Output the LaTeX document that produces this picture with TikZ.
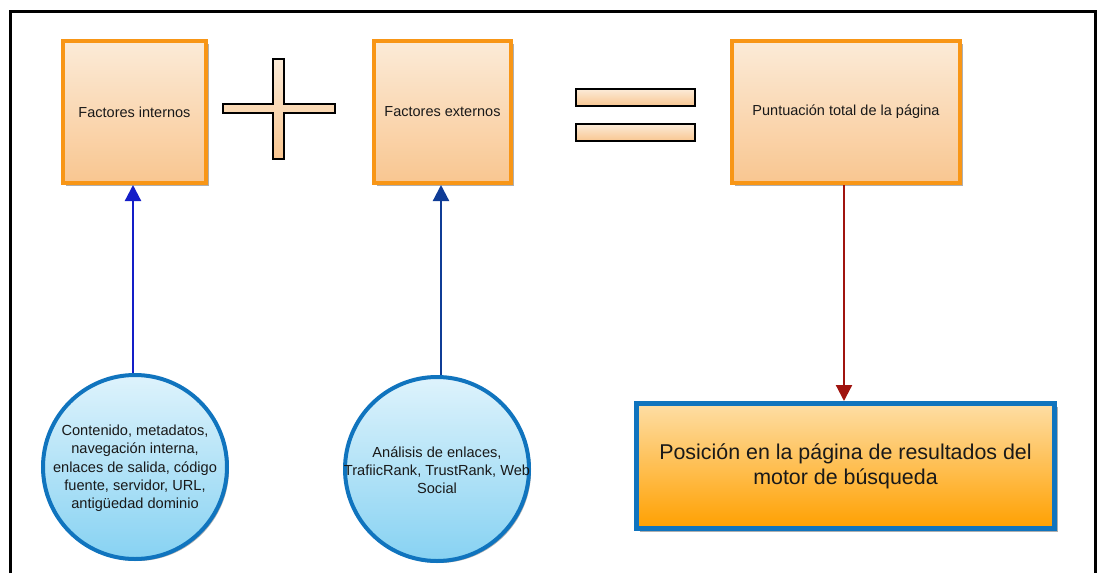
\documentclass[tikz,border=0pt]{standalone}
\usepackage{fontspec}
\setmainfont{Liberation Sans}
\usetikzlibrary{arrows.meta,shadows}
\definecolor{orng}{RGB}{248,150,22}
\definecolor{boxtop}{RGB}{251,235,216}
\definecolor{boxbot}{RGB}{249,198,144}
\definecolor{shd}{RGB}{175,175,175}
\definecolor{txt}{RGB}{25,25,25}
\definecolor{bluebord}{RGB}{16,116,190}
\definecolor{bigtop}{RGB}{254,222,165}
\definecolor{bigbot}{RGB}{255,160,0}
\definecolor{circtop}{RGB}{222,243,252}
\definecolor{circbot}{RGB}{135,210,242}
\definecolor{arrA}{RGB}{20,30,200}
\definecolor{arrB}{RGB}{15,60,150}
\definecolor{arrC}{RGB}{160,20,15}
\begin{document}
\begin{tikzpicture}[x=1pt,y=-1pt,
  fbox/.style={rectangle, draw=orng, line width=4pt, top color=boxtop, bottom color=boxbot,
    drop shadow={shadow xshift=3pt, shadow yshift=-3pt, fill=shd, opacity=1},
    text=txt, font=\fontsize{14.5}{18}\selectfont, minimum height=142pt, inner sep=0pt},
  bigbox/.style={rectangle, draw=bluebord, line width=5pt, top color=bigtop, bottom color=bigbot,
    drop shadow={shadow xshift=3pt, shadow yshift=-3pt, fill=shd, opacity=1},
    minimum width=418pt, minimum height=125pt, inner sep=0pt},
  circ/.style={circle, draw=bluebord, line width=4pt, top color=circtop, bottom color=circbot,
    drop shadow={shadow xshift=2pt, shadow yshift=-2pt, fill=shd, opacity=1},
    minimum size=184pt, inner sep=0pt},
  ctext/.style={text=txt, align=center, font=\fontsize{14.6}{18.3}\selectfont, inner sep=0pt},
  btext/.style={text=txt, align=center, font=\fontsize{21.4}{25}\selectfont, inner sep=0pt},
  sign/.style={draw=black, line width=2pt, top color=boxtop, bottom color=boxbot},
  conn/.style={line width=2.2pt, -{Triangle[length=16pt,width=16pt]}}
]
\useasboundingbox (0,0) rectangle (1097,573);
% frame
\draw[line width=3pt] (10,573) -- (10,11) -- (1095.5,11) -- (1095.5,573);

% top boxes
\node[fbox, minimum width=143pt] (b1) at (134.5,112) {Factores internos};
\node[fbox, minimum width=137pt] (b2) at (442.5,112) {Factores externos};
\node[fbox, minimum width=228pt] (b3) at (846,112) {Puntuación total de la página};

% plus sign
\shade[sign] (273,59) -- (284,59) -- (284,104) -- (335,104) -- (335,113) -- (284,113)
  -- (284,159) -- (273,159) -- (273,113) -- (223,113) -- (223,104) -- (273,104) -- cycle;

% equals sign
\node[sign, rectangle, minimum width=119pt, minimum height=17pt, inner sep=0pt] (eq1) at (635.5,97.5) {};
\node[sign, rectangle, minimum width=119pt, minimum height=17pt, inner sep=0pt] (eq2) at (635.5,132.5) {};

% circles
\node[circ] (c1) at (135,467) {};
\node[ctext] (t1) at (135,468.3) {Contenido, metadatos,\\navegación interna,\\enlaces de salida, código\\fuente, servidor, URL,\\antigüedad dominio};
\node[circ] (c2) at (437,469) {};
\node[ctext] (t2) at (437,470) {Análisis de enlaces,\\TrafiicRank, TrustRank, Web\\Social};

% result box
\node[bigbox] (b4) at (845.5,466) {};
\node[btext] (t4) at (845.5,466) {Posición en la página de resultados del\\motor de búsqueda};

% connectors
\draw[conn, draw=arrA, fill=arrA] ([xshift=-2pt]c1.north) -- ([xshift=-2pt]c1.north |- b1.south);
\draw[conn, draw=arrB, fill=arrB] ([xshift=4pt]c2.north) -- ([xshift=4pt]c2.north |- b2.south);
\draw[conn, draw=arrC, fill=arrC] ([xshift=-2pt]b3.south) -- ([xshift=-2pt]b3.south |- b4.north);
\end{tikzpicture}
\end{document}
